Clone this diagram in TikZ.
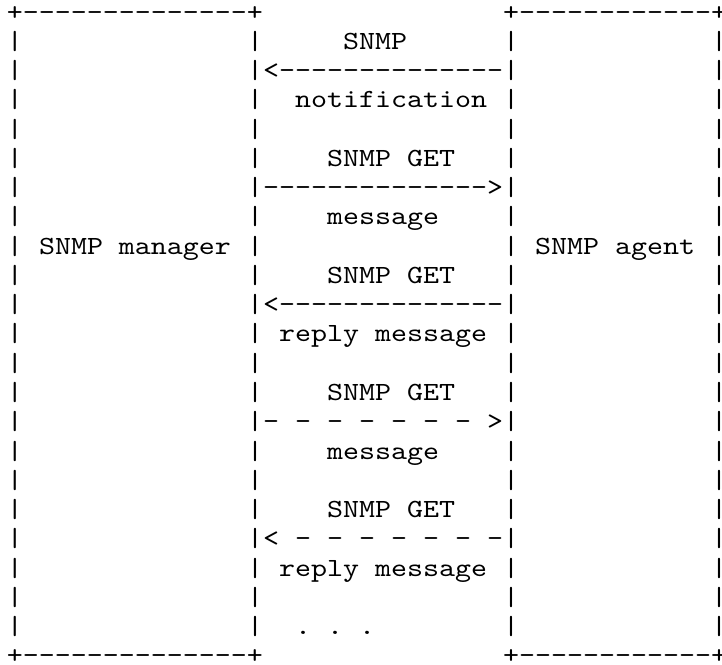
\documentclass[tikz,border=0pt]{standalone}
\usepackage{fontspec}
\usepackage{graphicx}
\setmonofont{lmmono10-regular.otf}
\begin{document}
\begin{tikzpicture}[x=1pt,y=-1pt,
  ch/.style={anchor=base west, inner sep=0pt, outer sep=0pt, text=black,
    font=\ttfamily\fontsize{26.2pt}{29.3pt}\selectfont}]
\useasboundingbox (0,0) rectangle (722,664);
\def\cx#1{7+16*#1}
\def\ry#1{20+29.27*#1}
\newcommand\wide[1]{\scalebox{1.1632}[1]{#1}}
% borders
\node[ch] (mgrtop) at ({\cx{0}},{\ry{0}}) {\wide{+--------------+}};
\node[ch] (agttop) at ({\cx{31}},{\ry{0}}) {\wide{+------------+}};
\node[ch] (mgrbot) at ({\cx{0}},{\ry{22}}) {\wide{+--------------+}};
\node[ch] (agtbot) at ({\cx{31}},{\ry{22}}) {\wide{+------------+}};
% vertical bars
\foreach \r in {1,...,21}{
  \foreach \c in {0,15,31,44}{
    \node[ch] (bar-\r-\c) at ({\cx{\c}},{\ry{\r}}) {\wide{|}};
  }
}
% box labels
\node[ch] (mgr) at ({\cx{2}},{\ry{8}}) {\wide{SNMP manager}};
\node[ch] (agt) at ({\cx{33}},{\ry{8}}) {\wide{SNMP agent}};
% messages
\node[ch] (t1) at ({\cx{21}},{\ry{1}}) {\wide{SNMP}};
\node[ch] (a1) at ({\cx{16}},{\ry{2}}) {\wide{<--------------}};
\node[ch] (t1b) at ({\cx{18}},{\ry{3}}) {\wide{notification}};
\node[ch] (t2) at ({\cx{20}},{\ry{5}}) {\wide{SNMP GET}};
\node[ch] (a2) at ({\cx{16}},{\ry{6}}) {\wide{-------------->}};
\node[ch] (t2b) at ({\cx{20}},{\ry{7}}) {\wide{message}};
\node[ch] (t3) at ({\cx{20}},{\ry{9}}) {\wide{SNMP GET}};
\node[ch] (a3) at ({\cx{16}},{\ry{10}}) {\wide{<--------------}};
\node[ch] (t3b) at ({\cx{17}},{\ry{11}}) {\wide{reply message}};
\node[ch] (t4) at ({\cx{20}},{\ry{13}}) {\wide{SNMP GET}};
\node[ch] (a4) at ({\cx{16}},{\ry{14}}) {\wide{- - - - - - - >}};
\node[ch] (t4b) at ({\cx{20}},{\ry{15}}) {\wide{message}};
\node[ch] (t5) at ({\cx{20}},{\ry{17}}) {\wide{SNMP GET}};
\node[ch] (a5) at ({\cx{16}},{\ry{18}}) {\wide{< - - - - - - -}};
\node[ch] (t5b) at ({\cx{17}},{\ry{19}}) {\wide{reply message}};
\node[ch] (dots) at ({\cx{18}},{\ry{21}}) {\wide{. . .}};
\end{tikzpicture}
\end{document}
